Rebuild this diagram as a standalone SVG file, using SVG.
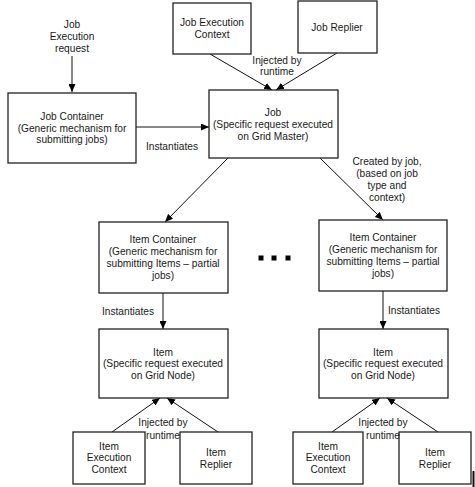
<svg xmlns="http://www.w3.org/2000/svg" width="475" height="487" viewBox="0 0 475 487">
<style>
.box{fill:#fff;stroke:#222;stroke-width:1.3}
.t{font-family:"Liberation Sans",Arial,sans-serif;font-size:10.2px;fill:#1a1a1a;text-anchor:middle}
.c{stroke:#111;stroke-width:1;fill:none;marker-end:url(#ah)}
</style>
<defs>
<marker id="ah" markerUnits="userSpaceOnUse" markerWidth="9" markerHeight="7" refX="8" refY="3.5" orient="auto">
<path d="M0,0 L8,3.5 L0,7 z" fill="#000"/>
</marker>
</defs>
<rect width="475" height="487" fill="#fff"/>
<g id="connectors">
<line class="c" x1="72" y1="56" x2="72" y2="92"/>
<line class="c" x1="136" y1="127" x2="209" y2="127"/>
<line class="c" x1="210" y1="54" x2="272" y2="90"/>
<line class="c" x1="337" y1="53" x2="276" y2="90"/>
<line class="c" x1="228" y1="158" x2="165" y2="222"/>
<line class="c" x1="320" y1="158" x2="383" y2="220"/>
<line class="c" x1="163" y1="293" x2="163" y2="329"/>
<line class="c" x1="383" y1="291" x2="383" y2="329"/>
<line class="c" x1="112" y1="432" x2="160" y2="398"/>
<line class="c" x1="218" y1="432" x2="167" y2="398"/>
<line class="c" x1="332" y1="432" x2="380" y2="398"/>
<line class="c" x1="438" y1="432" x2="387" y2="398"/>
<text class="t" x="72" y="28">Job</text>
<text class="t" x="72" y="40">Execution</text>
<text class="t" x="72" y="52">request</text>
<text class="t" x="172" y="149.5">Instantiates</text>
<text class="t" x="277" y="63.5">Injected by</text>
<text class="t" x="277" y="74.5">runtime</text>
<text class="t" x="387" y="164.5">Created by job,</text>
<text class="t" x="387" y="176.5">(based on job</text>
<text class="t" x="387" y="188.5">type and</text>
<text class="t" x="387" y="200.5">context)</text>
<text class="t" x="128" y="314.5">Instantiates</text>
<text class="t" x="414" y="313.5">Instantiates</text>
</g>
<g id="job-container">
<rect class="box" x="8" y="93" width="128" height="70"/>
<text class="t" x="72" y="119.5">Job Container</text>
<text class="t" x="72" y="131.5">(Generic mechanism for</text>
<text class="t" x="72" y="143">submitting jobs)</text>
</g>
<g id="job-execution-context">
<rect class="box" x="173" y="3" width="78" height="51"/>
<text class="t" x="212" y="25.5">Job Execution</text>
<text class="t" x="212" y="37.5">Context</text>
</g>
<g id="job-replier">
<rect class="box" x="298" y="1" width="79" height="52"/>
<text class="t" x="337" y="30.5">Job Replier</text>
</g>
<g id="job">
<rect class="box" x="209" y="90" width="129" height="68"/>
<text class="t" x="273" y="115.5">Job</text>
<text class="t" x="273" y="127.5">(Specific request executed</text>
<text class="t" x="273" y="139.5">on Grid Master)</text>
</g>
<g id="item-container-1">
<rect class="box" x="99" y="222" width="129" height="71"/>
<text class="t" x="163" y="242.5">Item Container</text>
<text class="t" x="163" y="254.5">(Generic mechanism for</text>
<text class="t" x="163" y="266.5">submitting Items – partial</text>
<text class="t" x="163" y="278.5">jobs)</text>
</g>
<g id="item-container-2">
<rect class="box" x="319" y="220" width="128" height="71"/>
<text class="t" x="383" y="240.5">Item Container</text>
<text class="t" x="383" y="252.5">(Generic mechanism for</text>
<text class="t" x="383" y="264.5">submitting Items – partial</text>
<text class="t" x="383" y="276.5">jobs)</text>
</g>
<g id="ellipsis">
<rect x="258.5" y="255.5" width="5" height="5" fill="#000"/>
<rect x="271.5" y="255.5" width="5" height="5" fill="#000"/>
<rect x="285.5" y="255.5" width="5" height="5" fill="#000"/>
</g>
<g id="item-1">
<rect class="box" x="99" y="329" width="129" height="69"/>
<text class="t" x="163" y="355.5">Item</text>
<text class="t" x="163" y="367">(Specific request executed</text>
<text class="t" x="163" y="378.5">on Grid Node)</text>
</g>
<g id="item-2">
<rect class="box" x="319" y="329" width="129" height="69"/>
<text class="t" x="383" y="355.5">Item</text>
<text class="t" x="383" y="367">(Specific request executed</text>
<text class="t" x="383" y="378.5">on Grid Node)</text>
</g>
<g id="item-execution-context-1">
<rect class="box" x="73" y="432" width="72" height="52"/>
<text class="t" x="109" y="449.5">Item</text>
<text class="t" x="109" y="461">Execution</text>
<text class="t" x="109" y="472.5">Context</text>
</g>
<g id="item-replier-1">
<rect class="box" x="180" y="432" width="72" height="52"/>
<text class="t" x="216" y="455.5">Item</text>
<text class="t" x="216" y="467.5">Replier</text>
</g>
<g id="item-execution-context-2">
<rect class="box" x="293" y="432" width="70" height="52"/>
<text class="t" x="328" y="449.5">Item</text>
<text class="t" x="328" y="461">Execution</text>
<text class="t" x="328" y="472.5">Context</text>
</g>
<g id="item-replier-2">
<rect class="box" x="399" y="432" width="72" height="52"/>
<text class="t" x="435" y="455.5">Item</text>
<text class="t" x="435" y="467.5">Replier</text>
</g>
<g id="labels-bottom">
<text class="t" x="163" y="425.5">Injected by</text>
<text class="t" x="163" y="438.5">runtime</text>
<text class="t" x="383" y="425.5">Injected by</text>
<text class="t" x="383" y="438.5">runtime</text>
</g>
<line x1="473.5" y1="471" x2="473.5" y2="487" stroke="#111" stroke-width="2"/>
</svg>
